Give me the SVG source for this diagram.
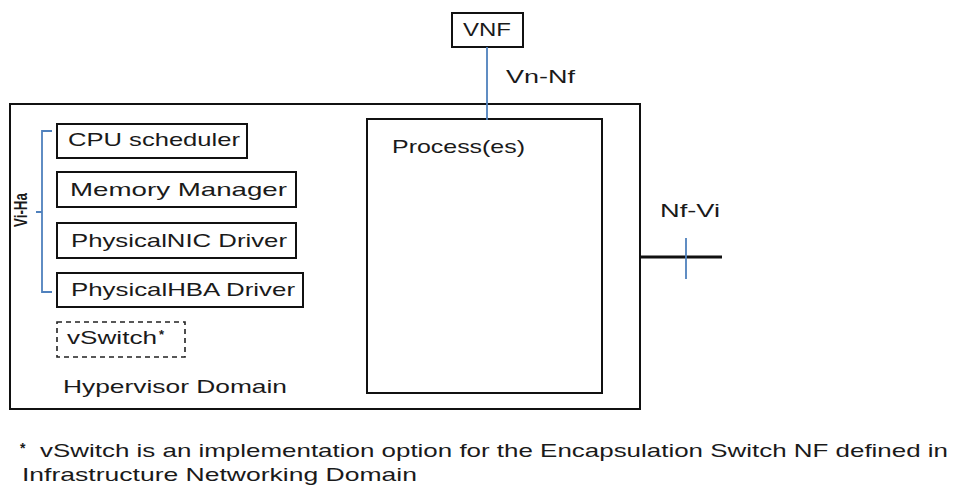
<svg xmlns="http://www.w3.org/2000/svg" width="953" height="485" viewBox="0 0 953 485">
<style>
.box{fill:#fff;stroke:#111;stroke-width:2}
.dash{fill:#fff;stroke:#222;stroke-width:1.6;stroke-dasharray:5,4}
.t{font-family:"Liberation Sans",Arial,sans-serif;font-size:19px;fill:#1a1a1a}
.f{font-family:"Liberation Sans",Arial,sans-serif;font-size:19px;fill:#1a1a1a}
.blue{stroke:#4f81bd;stroke-width:1.8;fill:none}
</style>
<rect width="953" height="485" fill="#fff"/>
<g id="hypervisor-domain">
<rect class="box" x="10" y="104" width="630" height="305" stroke="#333"/>
<text class="t" x="63" y="393" textLength="224" lengthAdjust="spacingAndGlyphs">Hypervisor Domain</text>
</g>
<g id="processes">
<rect class="box" x="367" y="119" width="235" height="274"/>
<text class="t" x="392" y="153" textLength="133" lengthAdjust="spacingAndGlyphs">Process(es)</text>
</g>
<g id="vnf">
<rect class="box" x="452" y="13" width="71" height="34"/>
<text class="t" x="463" y="36" textLength="48" lengthAdjust="spacingAndGlyphs">VNF</text>
</g>
<g id="cpu-scheduler">
<rect class="box" x="57" y="124" width="190" height="34"/>
<text class="t" x="68" y="146" textLength="172" lengthAdjust="spacingAndGlyphs">CPU scheduler</text>
</g>
<g id="memory-manager">
<rect class="box" x="57" y="172" width="239" height="35"/>
<text class="t" x="70" y="196" textLength="217" lengthAdjust="spacingAndGlyphs">Memory  Manager</text>
</g>
<g id="physical-nic-driver">
<rect class="box" x="57" y="223" width="239" height="35"/>
<text class="t" x="71" y="247" textLength="216" lengthAdjust="spacingAndGlyphs">PhysicalNIC Driver</text>
</g>
<g id="physical-hba-driver">
<rect class="box" x="57" y="273" width="246" height="34"/>
<text class="t" x="71" y="296" textLength="224" lengthAdjust="spacingAndGlyphs">PhysicalHBA Driver</text>
</g>
<g id="vswitch">
<rect class="dash" x="57" y="322" width="128" height="35"/>
<text class="t" x="67" y="344"><tspan textLength="90" lengthAdjust="spacingAndGlyphs">vSwitch</tspan><tspan dx="2" dy="-5" font-size="13" font-weight="bold">*</tspan></text>
</g>
<g id="connectors">
<line class="blue" x1="487" y1="47" x2="487" y2="120"/>
<text class="t" x="506" y="83" textLength="69" lengthAdjust="spacingAndGlyphs">Vn-Nf</text>
<line x1="640" y1="257" x2="722" y2="257" stroke="#111" stroke-width="3"/>
<line class="blue" x1="686" y1="238" x2="686" y2="279"/>
<text class="t" x="660" y="217" textLength="60" lengthAdjust="spacingAndGlyphs">Nf-Vi</text>
<path class="blue" d="M52,131 H42 V292 H52 M42,212 H36"/>
<text class="t" font-size="10" font-weight="bold" transform="translate(27,210) rotate(-90)" text-anchor="middle" textLength="34" lengthAdjust="spacingAndGlyphs">Vi-Ha</text>
</g>
<g id="footnote">
<text class="f" x="20" y="457"><tspan font-size="14" font-weight="bold" dy="-4">*</tspan><tspan x="40" dy="4" textLength="908" lengthAdjust="spacingAndGlyphs">vSwitch is an implementation option for the Encapsulation Switch NF defined in</tspan></text>
<text class="f" x="22" y="481" textLength="395" lengthAdjust="spacingAndGlyphs">Infrastructure Networking Domain</text>
</g>
</svg>
